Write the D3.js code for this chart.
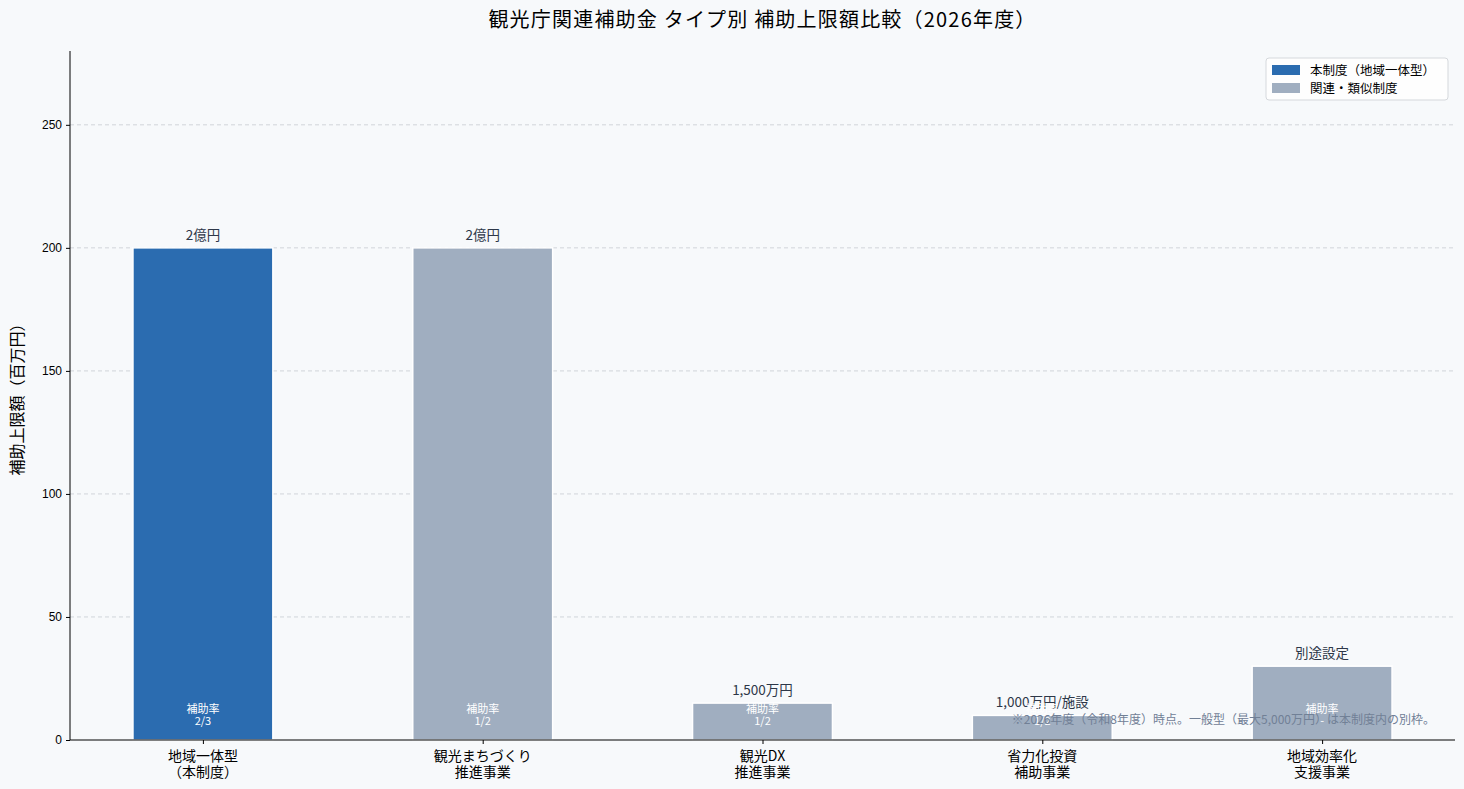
<!DOCTYPE html>
<html>
<head>
<meta charset="utf-8">
<script src="https://cdn.jsdelivr.net/npm/d3@7"></script>
<style>
  body { margin: 0; background: #f7f9fb; }
  svg { display: block; font-family: "Noto Sans CJK JP", sans-serif; }
</style>
</head>
<body>
<div id="chart"></div>
<script>
// datos
const categorias = [["地域一体型", "（本制度）"], ["観光まちづくり", "推進事業"], ["観光DX", "推進事業"], ["省力化投資", "補助事業"], ["地域効率化", "支援事業"]];
const limites = [200, 200, 15, 10, 30];
const etiquetas = ["2億円", "2億円", "1,500万円", "1,000万円/施設", "別途設定"];
const tasas = ["2/3", "1/2", "1/2", "1/2", "-"];
const esPropio = [true, false, false, false, false];
const yTicks = [0, 50, 100, 150, 200, 250];

const W = 1464, H = 789;
const mIzq = 70, mDer = 1455, mSup = 51, mInf = 740;

const svg = d3.select("#chart").append("svg")
  .attr("width", W).attr("height", H);

svg.append("rect").attr("width", W).attr("height", H).attr("fill", "#f7f9fb");

const x = d3.scaleLinear().domain([-0.475, 4.475]).range([mIzq, mDer]);
const y = d3.scaleLinear().domain([0, 280]).range([mInf, mSup]);
const ancho = x(0.5) - x(0);

// grid
svg.append("g")
  .selectAll("line")
  .data(yTicks.filter(d => d > 0)).enter()
  .append("line")
  .attr("x1", mIzq).attr("x2", mDer)
  .attr("y1", d => y(d)).attr("y2", d => y(d))
  .attr("stroke", "#c8ccd2").attr("stroke-width", 0.8)
  .attr("stroke-dasharray", "4,3");

// barras
svg.append("g")
  .selectAll("rect")
  .data(limites).enter()
  .append("rect")
  .attr("x", (d, i) => x(i) - ancho / 2)
  .attr("y", d => y(d))
  .attr("width", ancho)
  .attr("height", d => y(0) - y(d))
  .attr("fill", (d, i) => esPropio[i] ? "#2b6cb0" : "#a0aec0")
  .attr("stroke", "white").attr("stroke-width", 1.5);

// etiquetas de valor
svg.append("g")
  .selectAll("text")
  .data(limites).enter()
  .append("text")
  .attr("x", (d, i) => x(i))
  .attr("y", d => y(d) - 8)
  .attr("text-anchor", "middle")
  .attr("font-size", 13.5)
  .attr("fill", "#2d3748")
  .text((d, i) => etiquetas[i]);

// tasas
const tasa = svg.append("g")
  .selectAll("text")
  .data(tasas).enter()
  .append("text")
  .attr("text-anchor", "middle")
  .attr("font-size", 11)
  .attr("fill", "white");
tasa.append("tspan").attr("x", (d, i) => x(i)).attr("y", y(0) - 27).text("補助率");
tasa.append("tspan").attr("x", (d, i) => x(i)).attr("y", y(0) - 15).text(d => d);

// ejes
const ejeY = svg.append("g")
  .attr("transform", `translate(${mIzq},0)`)
  .call(d3.axisLeft(y).tickValues(yTicks).tickSize(4).tickPadding(4));
ejeY.select(".domain").attr("d", `M0,${mSup}V${mInf}`).attr("stroke", "#000");
ejeY.selectAll("text").attr("font-size", 12).attr("fill", "#000").attr("font-family", "inherit");

const ejeX = svg.append("g")
  .attr("transform", `translate(0,${mInf})`)
  .call(d3.axisBottom(x).tickValues(d3.range(categorias.length)).tickSize(4).tickFormat(""));
ejeX.select(".domain").attr("d", `M${mIzq},0H${mDer}`).attr("stroke", "#000");

svg.append("g")
  .selectAll("text")
  .data(categorias).enter()
  .append("text")
  .attr("text-anchor", "middle")
  .attr("font-size", 14)
  .attr("fill", "#000")
  .each(function(d, i) {
    d3.select(this).selectAll("tspan").data(d).enter()
      .append("tspan")
      .attr("x", x(i))
      .attr("y", (t, j) => mInf + 21 + j * 16)
      .text(t => t);
  });

// titulo
svg.append("text")
  .attr("x", (mIzq + mDer) / 2).attr("y", 27)
  .attr("text-anchor", "middle")
  .attr("font-size", 20)
  .attr("letter-spacing", 1.2)
  .attr("fill", "#000")
  .text("観光庁関連補助金 タイプ別 補助上限額比較（2026年度）");

svg.append("text")
  .attr("transform", `translate(23,${(mSup + mInf) / 2}) rotate(-90)`)
  .attr("text-anchor", "middle")
  .attr("font-size", 16)
  .attr("fill", "#000")
  .text("補助上限額（百万円）");

// nota
svg.append("text")
  .attr("x", 1435).attr("y", 724)
  .attr("text-anchor", "end")
  .attr("font-size", 12)
  .attr("fill", "#718096")
  .text("※2026年度（令和8年度）時点。一般型（最大5,000万円）は本制度内の別枠。");

// leyenda
const ley = svg.append("g").attr("transform", "translate(1266,58)");
ley.append("rect").attr("width", 182).attr("height", 42).attr("rx", 3)
  .attr("fill", "white").attr("fill-opacity", 0.8)
  .attr("stroke", "#d5d8dc");
const items = [["本制度（地域一体型）", "#2b6cb0"], ["関連・類似制度", "#a0aec0"]];
const it = ley.selectAll("g.item").data(items).enter()
  .append("g").attr("class", "item")
  .attr("transform", (d, i) => `translate(0,${7 + i * 18})`);
it.append("rect").attr("x", 6).attr("width", 28).attr("height", 10).attr("fill", d => d[1]);
it.append("text").attr("x", 44).attr("y", 10).attr("font-size", 12.5).attr("fill", "#000").text(d => d[0]);
</script>
</body>
</html>
